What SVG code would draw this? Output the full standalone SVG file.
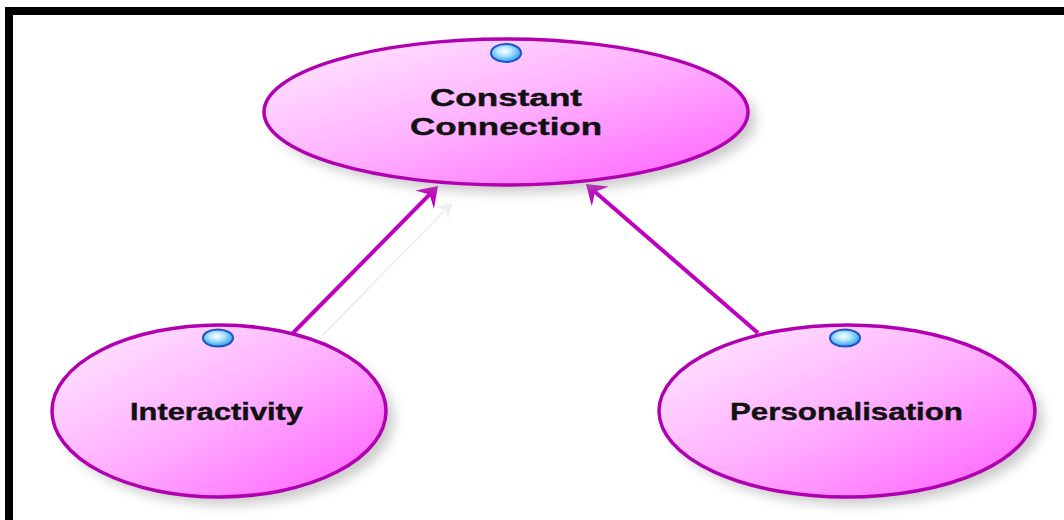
<svg xmlns="http://www.w3.org/2000/svg" width="1064" height="520" viewBox="0 0 1064 520">
  <style>
    .node { fill: url(#pinkFill); stroke: #b000b0; stroke-width: 3.5; }
    .shade { fill: #9a9a9a; opacity: 0.5; filter: url(#soft); }
    .label { font-family: "Liberation Sans", Arial, sans-serif; font-weight: bold; font-size: 24px; fill: #111; stroke: #111; stroke-width: 0.4; text-anchor: middle; }
    .dot { fill: url(#dotFill); stroke: #1a55c8; stroke-width: 2; }
    .link { fill: none; stroke: #c000c0; stroke-width: 4; }
    .ghost { fill: none; stroke: #f0f0f0; stroke-width: 2; }
  </style>
  <defs>
    <linearGradient id="pinkFill" x1="0" y1="0" x2="1" y2="1">
      <stop offset="0" stop-color="#ffecff"/>
      <stop offset="0.5" stop-color="#ffb0ff"/>
      <stop offset="1" stop-color="#ff5cff"/>
    </linearGradient>
    <radialGradient id="dotFill" cx="0.45" cy="0.4" r="0.6">
      <stop offset="0" stop-color="#ffffff"/>
      <stop offset="0.4" stop-color="#b4e6ff"/>
      <stop offset="1" stop-color="#2f9ee8"/>
    </radialGradient>
    <filter id="soft" x="-20%" y="-20%" width="140%" height="140%">
      <feGaussianBlur stdDeviation="6"/>
    </filter>
    <marker id="head" markerUnits="userSpaceOnUse" markerWidth="32" markerHeight="32" viewBox="-16 -16 32 32" refX="0" refY="0" orient="auto">
      <path d="M8,0 L-11,-13 L-4,0 L-11,13 Z" fill="#c000c0"/>
    </marker>
    <marker id="ghostHead" markerUnits="userSpaceOnUse" markerWidth="32" markerHeight="32" viewBox="-16 -16 32 32" refX="0" refY="0" orient="auto">
      <path d="M6,0 L-9,-9 L-4,0 L-9,9 Z" fill="#efefef"/>
    </marker>
  </defs>

  <rect x="0" y="0" width="1064" height="520" fill="#ffffff"/>

  <!-- frame -->
  <rect x="5" y="7" width="1059" height="8" fill="#000"/>
  <rect x="5" y="7" width="8" height="513" fill="#000"/>

  <!-- connectors -->
  <g id="connectors">
    <path class="ghost" d="M322,336 L448,207" marker-end="url(#ghostHead)"/>
    <path class="link" d="M293,333 L432.4,191.7" marker-end="url(#head)"/>
    <path class="link" d="M758,333 L592,189.2" marker-end="url(#head)"/>
  </g>

  <!-- nodes -->
  <g id="node-constant-connection">
    <ellipse class="shade" cx="514" cy="120" rx="242" ry="73"/>
    <ellipse class="node" cx="506" cy="112" rx="242" ry="73"/>
    <ellipse class="dot" cx="506" cy="53" rx="15" ry="9"/>
    <text class="label" x="506" y="106" textLength="152" lengthAdjust="spacingAndGlyphs">Constant</text>
    <text class="label" x="506" y="135" textLength="192" lengthAdjust="spacingAndGlyphs">Connection</text>
  </g>

  <g id="node-interactivity">
    <ellipse class="shade" cx="227" cy="419" rx="167" ry="86"/>
    <ellipse class="node" cx="219" cy="411" rx="167" ry="86"/>
    <ellipse class="dot" cx="218" cy="338" rx="15" ry="8.5"/>
    <text class="label" x="216.5" y="420" textLength="173" lengthAdjust="spacingAndGlyphs">Interactivity</text>
  </g>

  <g id="node-personalisation">
    <ellipse class="shade" cx="855" cy="419" rx="188" ry="86"/>
    <ellipse class="node" cx="847" cy="411" rx="188" ry="86"/>
    <ellipse class="dot" cx="845" cy="338" rx="15" ry="8.5"/>
    <text class="label" x="846.5" y="420" textLength="233" lengthAdjust="spacingAndGlyphs">Personalisation</text>
  </g>
</svg>
